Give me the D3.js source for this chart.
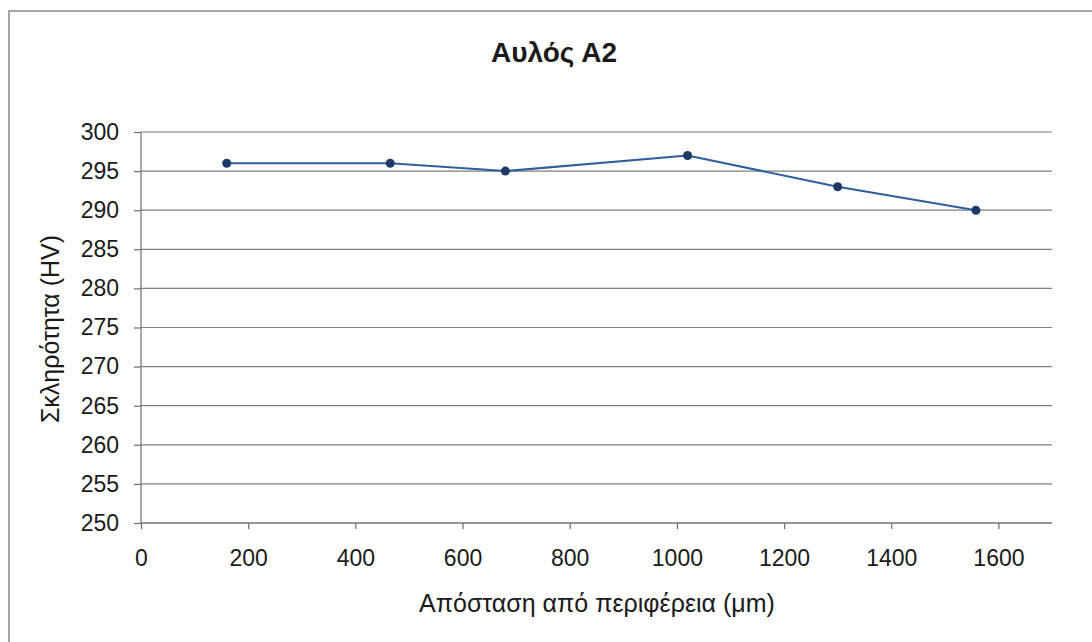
<!DOCTYPE html>
<html>
<head>
<meta charset="utf-8">
<script src="https://cdn.jsdelivr.net/npm/d3@7"></script>
<style>
  body { margin: 0; background: #fff; }
  text { font-family: "Liberation Sans", Arial, sans-serif; fill: #1a1a1a; }
</style>
</head>
<body>
<script>
// chart data
const distances = [160, 465, 680, 1020, 1300, 1558];
const hardness = [296, 296, 295, 297, 293, 290];
const xTicks = [0, 200, 400, 600, 800, 1000, 1200, 1400, 1600];
const yTicks = [250, 255, 260, 265, 270, 275, 280, 285, 290, 295, 300];

const title = 'Αυλός Α2';
const xLabel = 'Απόσταση από περιφέρεια (μm)';
const yLabel = 'Σκληρότητα (HV)';

// layout
const svgWidth = 1092;
const svgHeight = 642;
const margin = {top: 132, right: 40, bottom: 119, left: 141};
const plotWidth = svgWidth - margin.left - margin.right;
const plotHeight = svgHeight - margin.top - margin.bottom;

const svg = d3.select('body')
              .append('svg')
              .attr('width', svgWidth)
              .attr('height', svgHeight);

// outer frame (only top and left edges are visible in the photo)
svg.append('path')
   .attr('d', 'M9,' + svgHeight + ' L9,11 L' + svgWidth + ',11')
   .attr('fill', 'none')
   .attr('stroke', '#8a8a8a')
   .attr('stroke-width', 1.5);

const inner = svg.append('g')
                 .attr('transform', 'translate(' + margin.left + ',' + margin.top + ')');

// scales
const xScale = d3.scaleLinear()
                 .domain([0, 1700])
                 .range([0, plotWidth]);

const yScale = d3.scaleLinear()
                 .domain([250, 300])
                 .range([plotHeight, 0]);

// horizontal gridlines
inner.selectAll('line.grid')
     .data(yTicks)
     .enter()
     .append('line')
     .attr('class', 'grid')
     .attr('x1', 0)
     .attr('x2', plotWidth)
     .attr('y1', d => yScale(d))
     .attr('y2', d => yScale(d))
     .attr('stroke', '#7f7f7f')
     .attr('stroke-width', 1.2);

// axes
const yAxis = d3.axisLeft(yScale)
                .tickValues(yTicks)
                .tickFormat(d3.format('d'))
                .tickSize(7)
                .tickPadding(15);
const xAxis = d3.axisBottom(xScale)
                .tickValues(xTicks)
                .tickFormat(d3.format('d'))
                .tickSize(6)
                .tickPadding(21);

const yG = inner.append('g')
                .attr('class', 'y-axis')
                .call(yAxis);
const xG = inner.append('g')
                .attr('class', 'x-axis')
                .attr('transform', 'translate(0,' + plotHeight + ')')
                .call(xAxis);

[yG, xG].forEach(g => {
    g.select('.domain').attr('stroke', '#6f6f6f').attr('stroke-width', 1.2);
    g.selectAll('.tick line').attr('stroke', '#6f6f6f').attr('stroke-width', 1.2);
    g.selectAll('.tick text')
     .attr('font-size', 23)
     .attr('font-family', '"Liberation Sans", Arial, sans-serif')
     .attr('fill', '#1a1a1a');
});
xG.select('.domain').attr('d', 'M0,0H' + plotWidth);
yG.select('.domain').attr('d', 'M0,0V' + plotHeight);

// series line
const points = distances.map((d, i) => ({x: d, y: hardness[i]}));

inner.append('path')
     .datum(points)
     .attr('fill', 'none')
     .attr('stroke', '#2f5f9f')
     .attr('stroke-width', 2)
     .attr('d', d3.line().x(d => xScale(d.x)).y(d => yScale(d.y)));

inner.selectAll('circle')
     .data(points)
     .enter()
     .append('circle')
     .attr('cx', d => xScale(d.x))
     .attr('cy', d => yScale(d.y))
     .attr('r', 4.5)
     .attr('fill', '#1d3a66');

// titles
svg.append('text')
   .attr('x', 554)
   .attr('y', 62)
   .attr('text-anchor', 'middle')
   .attr('font-size', 28)
   .attr('font-weight', 'bold')
   .attr('fill', '#2a1f1f')
   .text(title);

svg.append('text')
   .attr('x', 597)
   .attr('y', 612)
   .attr('text-anchor', 'middle')
   .attr('font-size', 25)
   .text(xLabel);

svg.append('text')
   .attr('transform', 'translate(59,' + 329 + ') rotate(-90)')
   .attr('text-anchor', 'middle')
   .attr('font-size', 25)
   .text(yLabel);
</script>
</body>
</html>
